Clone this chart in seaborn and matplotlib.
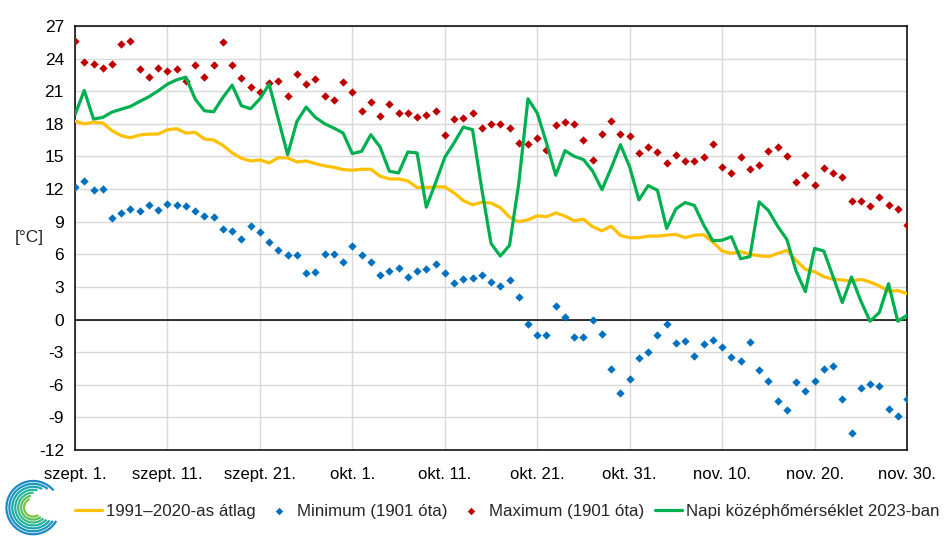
import numpy as np
import pandas as pd
import matplotlib
matplotlib.use("Agg")
import matplotlib.pyplot as plt
from matplotlib.patches import Arc
import seaborn as sns

# ── Data (days from Sept 1) ──────────────────────────────────────────────────
AVG_1991_2020 = [18.25, 17.98, 18.16, 18.07, 17.37, 16.91, 16.72, 16.97, 17.06, 17.06,
                 17.46, 17.55, 17.15, 17.21, 16.60, 16.51, 16.02, 15.32, 14.83, 14.58,
                 14.68, 14.40, 14.89, 14.87, 14.49, 14.58, 14.34, 14.13, 14.00, 13.79,
                 13.73, 13.82, 13.82, 13.18, 12.93, 12.93, 12.75, 12.14, 12.14, 12.20,
                 12.20, 11.65, 10.94, 10.55, 10.79, 10.71, 10.30, 9.42, 8.99, 9.17,
                 9.54, 9.45, 9.81, 9.51, 9.08, 9.23, 8.53, 8.16, 8.59, 7.73,
                 7.52, 7.52, 7.67, 7.67, 7.76, 7.83, 7.52, 7.76, 7.80, 7.12,
                 6.30, 6.08, 6.24, 5.99, 5.87, 5.78, 6.08, 6.36, 5.44, 4.61,
                 4.40, 3.94, 3.70, 3.64, 3.51, 3.70, 3.45, 3.09, 2.60, 2.66, 2.38]

MIN_1901 = [12.23, 12.75, 11.92, 12.02, 9.32, 9.81, 10.18, 10.00, 10.55, 10.09,
            10.64, 10.55, 10.42, 10.00, 9.51, 9.42, 8.35, 8.13, 7.43, 8.59,
            8.04, 7.12, 6.42, 5.96, 5.96, 4.31, 4.40, 6.05, 6.05, 5.32,
            6.76, 5.96, 5.32, 4.09, 4.49, 4.77, 3.94, 4.49, 4.68, 5.13,
            4.31, 3.39, 3.76, 3.85, 4.09, 3.48, 3.09, 3.67, 2.11, -0.37,
            -1.38, -1.47, 1.28, 0.27, -1.65, -1.65, -0.09, -1.29, -4.56, -6.79,
            -5.51, -3.52, -3.00, -1.38, -0.37, -2.20, -2.02, -3.31, -2.27, -1.84,
            -2.57, -3.49, -3.86, -2.11, -4.68, -5.69, -7.53, -8.35, -5.78, -6.61,
            -5.69, -4.56, -4.31, -7.34, -10.46, -6.33, -5.97, -6.15, -8.26, -8.90, -7.34]

MAX_1901 = [25.65, 23.67, 23.48, 23.09, 23.54, 25.32, 25.65, 23.02, 22.29, 23.09,
            22.84, 23.02, 21.92, 23.39, 22.35, 23.39, 25.56, 23.39, 22.20, 21.43,
            20.91, 21.77, 21.92, 20.55, 22.57, 21.65, 22.11, 20.55, 20.15, 21.83,
            20.91, 19.17, 20.00, 18.71, 19.81, 18.99, 18.99, 18.59, 18.77, 19.20,
            16.97, 18.41, 18.53, 18.99, 17.58, 17.98, 17.98, 17.61, 16.20, 16.14,
            16.69, 15.59, 17.86, 18.19, 17.98, 16.51, 14.68, 17.06, 18.22, 17.06,
            16.88, 15.29, 15.87, 15.38, 14.40, 15.13, 14.58, 14.58, 14.95, 16.14,
            14.03, 13.45, 14.95, 13.82, 14.22, 15.47, 15.84, 15.01, 12.66, 13.30,
            12.38, 13.91, 13.48, 13.12, 10.91, 10.91, 10.42, 11.28, 10.55, 10.18, 8.71]

MEAN_2023 = [18.83, 21.07, 18.44, 18.59, 19.08, 19.35, 19.60, 20.06, 20.49, 21.04,
             21.65, 22.05, 22.29, 20.27, 19.20, 19.11, 20.43, 21.56, 19.66, 19.39,
             20.30, 21.65, 18.40, 15.16, 18.22, 19.54, 18.59, 18.01, 17.61, 17.15,
             15.26, 15.47, 17.00, 15.87, 13.64, 13.48, 15.41, 15.32, 10.33, 12.57,
             14.92, 16.24, 17.70, 17.46, 12.00, 7.00, 5.84, 6.82, 12.50, 20.30,
             18.99, 16.24, 13.27, 15.53, 15.01, 14.71, 13.64, 11.95, 13.94, 16.08,
             14.03, 11.00, 12.32, 11.89, 8.38, 10.18, 10.76, 10.49, 8.70, 7.24,
             7.30, 7.61, 5.59, 5.78, 10.82, 10.03, 8.59, 7.37, 4.46, 2.57,
             6.54, 6.30, 3.94, 1.56, 3.91, 1.71, -0.16, 0.64, 3.30, -0.16, 0.39]

TICK_DAYS = [0, 10, 20, 30, 40, 50, 60, 70, 80, 90]
TICK_LABELS = ["szept. 1.", "szept. 11.", "szept. 21.", "okt. 1.", "okt. 11.",
               "okt. 21.", "okt. 31.", "nov. 10.", "nov. 20.", "nov. 30."]
Y_TICKS = list(range(-12, 28, 3))

COLORS = {
    "avg": "#FFC000",
    "min": "#0070C0",
    "max": "#C00000",
    "mean": "#00B050",
}

df = pd.DataFrame({
    "day": np.arange(len(AVG_1991_2020)),
    "avg": AVG_1991_2020,
    "min": MIN_1901,
    "max": MAX_1901,
    "mean": MEAN_2023,
})

# ── Style ────────────────────────────────────────────────────────────────────
sns.set_style("white")
plt.rcParams["font.family"] = ["Liberation Sans", "DejaVu Sans"]
plt.rcParams["axes.unicode_minus"] = False

fig = plt.figure(figsize=(9.46, 5.40), dpi=100)
ax = fig.add_axes([0.0793, 0.1667, 0.8795, 0.7852])

sns.lineplot(data=df, x="day", y="avg", ax=ax, color=COLORS["avg"], lw=2.3,
             label="1991–2020-as átlag", zorder=3)
sns.scatterplot(data=df, x="day", y="min", ax=ax, color=COLORS["min"], marker="D",
                s=18, linewidth=0, label="Minimum (1901 óta)", zorder=4)
sns.scatterplot(data=df, x="day", y="max", ax=ax, color=COLORS["max"], marker="D",
                s=18, linewidth=0, label="Maximum (1901 óta)", zorder=4)
sns.lineplot(data=df, x="day", y="mean", ax=ax, color=COLORS["mean"], lw=2.3,
             label="Napi középhőmérséklet 2023-ban", zorder=5)

ax.axhline(0, color="black", lw=1.1, zorder=2)
ax.set_xlim(0, 90)
ax.set_ylim(-12, 27)
ax.set_xticks(TICK_DAYS)
ax.set_xticklabels(TICK_LABELS)
ax.set_yticks(Y_TICKS)
ax.grid(True, color="#D9D9D9", lw=1)
ax.tick_params(length=0, labelsize=12.5, colors="black")
ax.tick_params(axis="x", pad=12, labelsize=12)
ax.tick_params(axis="y", pad=8)
ax.set_xlabel("")
ax.set_ylabel("")
for sp in ax.spines.values():
    sp.set_color("black")
    sp.set_linewidth(1.1)
ax.text(-0.073, 0.5, "[°C]", transform=ax.transAxes, fontsize=12.5, ha="left", va="center")

handles, labels = ax.get_legend_handles_labels()
ax.get_legend().remove()
leg = fig.legend(handles, labels, loc="center left", bbox_to_anchor=(0.079, 0.053), ncol=4,
                 frameon=False, fontsize=12.2, handlelength=1.6, handletextpad=0.25,
                 columnspacing=0.6, markerscale=0.9, borderaxespad=0, borderpad=0)

# ── Logo (stylised concentric arcs) ─────────────────────────────────────────
lax = fig.add_axes([0.004, 0.005, 0.062, 0.11])
lax.set_xlim(-1.1, 1.1)
lax.set_ylim(-1.1, 1.1)
lax.set_aspect("equal")
lax.axis("off")
arc_cols = sns.blend_palette(["#1E88C8", "#1FB3A0", "#7CC242"], 7)
for k, c in enumerate(arc_cols):
    r = 2.0 - k * 0.22
    lax.add_patch(Arc((0, 0), r, r, theta1=40 + k * 12, theta2=330 - k * 4, color=c, lw=1.6))

fig.savefig("out.png", dpi=100)
